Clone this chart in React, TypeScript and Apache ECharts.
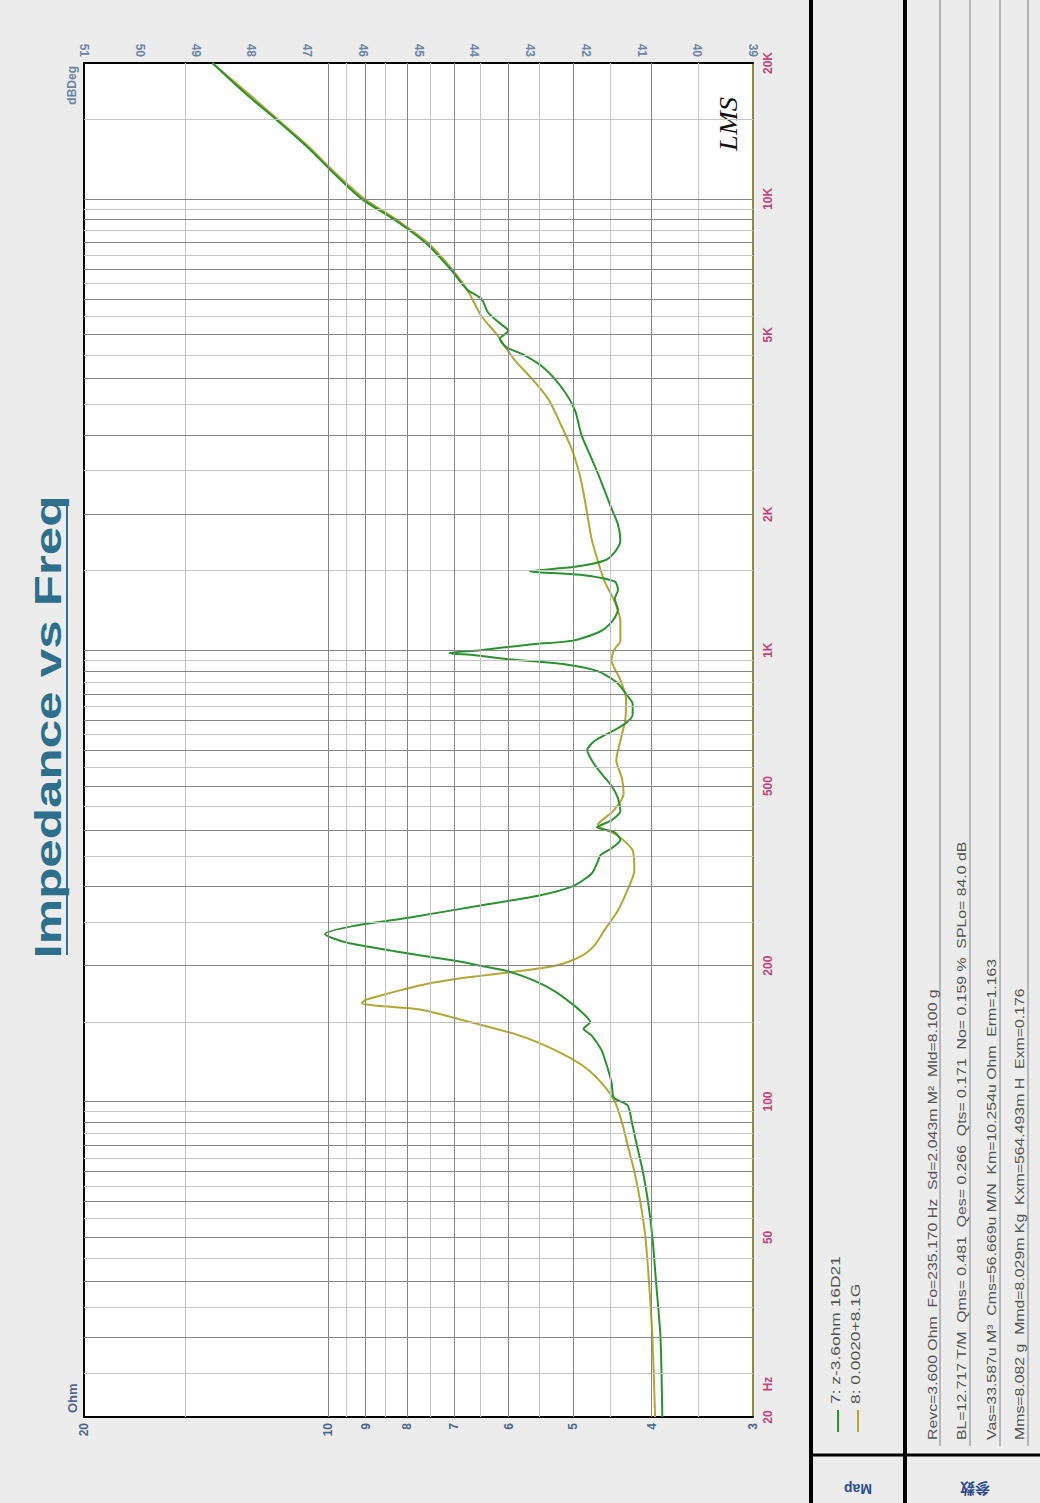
import React, { useEffect, useRef } from "react";
import * as echarts from "echarts";

const TITLE = "Impedance vs Freq";

const freqTicks = [20, 50, 100, 200, 500, 1000, 2000, 5000, 10000, 20000];
const freqTickLabels = ["20", "50", "100", "200", "500", "1K", "2K", "5K", "10K", "20K"];
const ohmTicks = [3, 4, 5, 6, 7, 8, 9, 10, 20];

const freqGridDark = [30, 40, 50, 60, 70, 80, 90, 100, 200, 300, 400, 500, 600, 700, 800, 900, 1000, 2000, 3000, 4000, 5000, 6000, 7000, 8000, 9000, 10000];
const freqGridLight = [25, 35, 45, 55, 65, 75, 85, 95, 150, 250, 350, 450, 550, 650, 750, 850, 950, 1500, 2500, 3500, 4500, 5500, 6500, 7500, 8500, 9500, 15000];
const ohmGridDark = [4, 5, 6, 7, 8, 9, 10];
const ohmGridLight = [3.5, 4.5, 5.5, 6.5, 7.5, 8.5, 9.5, 15];

// Curve 7 (green)
const freq7 = [20, 30, 40, 50, 60, 70, 80, 90, 98, 102, 110, 120, 130, 140, 145, 150, 158, 165, 175, 185, 195, 200, 205, 215, 225, 235, 245, 256, 272, 286, 300, 320, 340, 352, 365, 380, 395, 405, 420, 440, 470, 500, 530, 560, 600, 630, 660, 690, 720, 760, 800, 850, 900, 930, 955, 975, 985, 1000, 1030, 1050, 1100, 1160, 1230, 1300, 1360, 1420, 1470, 1495, 1530, 1580, 1650, 1750, 1900, 2100, 2400, 2700, 3000, 3400, 3800, 4200, 4500, 4700, 4900, 5100, 5300, 5600, 6000, 6300, 7000, 8000, 9000, 10000, 11500, 13000, 15000, 17000, 20000];
const ohm7 = [3.88, 3.90, 3.95, 3.99, 4.04, 4.10, 4.17, 4.23, 4.28, 4.45, 4.48, 4.54, 4.61, 4.74, 4.85, 4.76, 4.88, 5.02, 5.25, 5.57, 6.05, 6.5, 6.98, 8.25, 9.5, 10.1, 9.3, 7.9, 6.5, 5.5, 5.0, 4.74, 4.66, 4.62, 4.47, 4.37, 4.44, 4.67, 4.48, 4.37, 4.40, 4.48, 4.6, 4.71, 4.80, 4.70, 4.48, 4.30, 4.22, 4.22, 4.30, 4.42, 4.67, 5.1, 6.0, 6.6, 7.1, 6.5, 5.65, 5.0, 4.63, 4.47, 4.40, 4.44, 4.40, 4.44, 4.9, 5.65, 4.97, 4.57, 4.44, 4.37, 4.40, 4.5, 4.63, 4.76, 4.88, 4.97, 5.15, 5.41, 5.73, 6.05, 6.15, 6.0, 6.15, 6.36, 6.48, 6.75, 7.08, 7.6, 8.3, 9.1, 9.9, 10.6, 11.6, 12.6, 13.9];

// Curve 8 (olive)
const freq8 = [20, 30, 40, 50, 60, 70, 80, 90, 100, 110, 120, 130, 140, 150, 160, 163, 165, 168, 172, 177, 182, 188, 194, 200, 210, 222, 240, 265, 295, 325, 360, 390, 410, 440, 480, 520, 570, 630, 700, 780, 860, 950, 1000, 1050, 1160, 1280, 1420, 1580, 1760, 2000, 2270, 2500, 2800, 3200, 3600, 4000, 4400, 5000, 5500, 6300, 7000, 8000, 9000, 10000, 11500, 13000, 15000, 17000, 20000];
const ohm8 = [3.96, 3.99, 4.03, 4.07, 4.13, 4.20, 4.28, 4.35, 4.44, 4.61, 4.86, 5.26, 5.81, 6.69, 7.71, 8.7, 9.1, 9.0, 8.6, 8.1, 7.6, 6.8, 5.9, 5.26, 4.88, 4.70, 4.57, 4.40, 4.28, 4.20, 4.22, 4.42, 4.66, 4.46, 4.33, 4.35, 4.42, 4.37, 4.31, 4.30, 4.37, 4.48, 4.45, 4.37, 4.37, 4.44, 4.57, 4.66, 4.74, 4.80, 4.86, 4.92, 5.02, 5.19, 5.36, 5.62, 5.9, 6.2, 6.48, 6.75, 7.05, 7.55, 8.25, 9.03, 9.85, 10.55, 11.55, 12.5, 13.9];

const legendLabels = ["7: z-3.6ohm 16D21", "8: 0.0020+8.1G"];
const seriesColors = ["#2a922e", "#b3a634"];
const paramLines = [
  "Revc=3.600 Ohm  Fo=235.170 Hz  Sd=2.043m M²  Mld=8.100 g",
  "BL=12.717 T/M  Qms= 0.481  Qes= 0.266  Qts= 0.171  No= 0.159 %  SPLo= 84.0 dB",
  "Vas=33.587u M³  Cms=56.669u M/N  Km=10.254u Ohm  Erm=1.163",
  "Mms=8.082 g  Mmd=8.029m Kg  Kxm=564.493m H  Exm=0.176",
];
const cellLabels = ["Map", "参数"];

const FONT = "'Liberation Sans', Arial, sans-serif";

function nudge(vals: number[]) {
  const n = vals.length;
  return vals.map((v, i) => (i === 0 ? v * 1.0001 : i === n - 1 ? v * 0.9999 : v));
}

export default function App() {
  const ref = useRef<HTMLDivElement>(null);
  useEffect(() => {
    if (!ref.current) return;
    const chart = echarts.init(ref.current, null, { renderer: "svg" });

    const gridLines: any[] = [];
    freqGridLight.forEach((v) => gridLines.push({ yAxis: v, lineStyle: { color: "#c4c4c4", width: 1, type: "solid" } }));
    ohmGridLight.forEach((v) => gridLines.push({ xAxis: v, lineStyle: { color: "#c4c4c4", width: 1, type: "solid" } }));
    freqGridDark.forEach((v) => gridLines.push({ yAxis: v, lineStyle: { color: "#868686", width: 1, type: "solid" } }));
    ohmGridDark.forEach((v) => gridLines.push({ xAxis: v, lineStyle: { color: "#868686", width: 1, type: "solid" } }));

    const graphics: any[] = [];
    // Title
    graphics.push({
      type: "text", x: 48, y: 727, rotation: Math.PI / 2, scaleX: 1.42,
      style: { text: TITLE, fontSize: 36, fontWeight: "bold", fontFamily: FONT, fill: "#2f6f8e", align: "center", verticalAlign: "middle" },
    });
    graphics.push({ type: "line", shape: { x1: 67, y1: 500, x2: 67, y2: 955 }, style: { stroke: "#2f6f8e", lineWidth: 2 } });
    // Axis names
    graphics.push({
      type: "text", x: 72, y: 66, rotation: Math.PI / 2,
      style: { text: "dBDeg", fontSize: 12, fontWeight: "bold", fontFamily: FONT, fill: "#6b85aa", align: "right", verticalAlign: "middle" },
    });
    graphics.push({
      type: "text", x: 72, y: 1413, rotation: Math.PI / 2,
      style: { text: "Ohm", fontSize: 13, fontWeight: "bold", fontFamily: FONT, fill: "#4d6690", align: "left", verticalAlign: "middle" },
    });
    graphics.push({
      type: "text", x: 768, y: 1384, rotation: Math.PI / 2,
      style: { text: "Hz", fontSize: 12, fontWeight: "bold", fontFamily: FONT, fill: "#c8407c", align: "center", verticalAlign: "middle" },
    });
    // LMS logo
    graphics.push({
      type: "text", x: 728, y: 124, rotation: Math.PI / 2, scaleX: 1.1,
      style: { text: "LMS", fontSize: 26, fontStyle: "italic", fontFamily: "'Liberation Serif', serif", fill: "#111", align: "center", verticalAlign: "middle" },
    });
    // Right panel frame
    graphics.push({ type: "line", shape: { x1: 811, y1: 0, x2: 811, y2: 1503 }, style: { stroke: "#000", lineWidth: 4 } });
    graphics.push({ type: "line", shape: { x1: 905, y1: 0, x2: 905, y2: 1503 }, style: { stroke: "#000", lineWidth: 4 } });
    graphics.push({ type: "line", shape: { x1: 811, y1: 1455, x2: 1040, y2: 1455 }, style: { stroke: "#000", lineWidth: 3 } });
    [940, 970, 1000, 1028].forEach((x) => {
      graphics.push({ type: "line", shape: { x1: x, y1: 0, x2: x, y2: 1446 }, style: { stroke: "#a6a6a6", lineWidth: 1.5 } });
    });
    // Legend
    [838, 858].forEach((x, i) => {
      graphics.push({ type: "line", shape: { x1: x, y1: 1410, x2: x, y2: 1432 }, style: { stroke: seriesColors[i], lineWidth: 2 } });
      graphics.push({
        type: "text", x: x - 2, y: 1404, rotation: Math.PI / 2, scaleX: 1.45,
        style: { text: legendLabels[i], fontSize: 12, fontFamily: FONT, fill: "#555", align: "left", verticalAlign: "middle" },
      });
    });
    // Parameter lines
    [933, 962, 992, 1020].forEach((x, i) => {
      graphics.push({
        type: "text", x, y: 1440, rotation: Math.PI / 2, scaleX: 1.32,
        style: { text: paramLines[i], fontSize: 12, fontFamily: FONT, fill: "#555", align: "left", verticalAlign: "middle" },
      });
    });
    // Bottom cells (upside down)
    graphics.push({
      type: "text", x: 858, y: 1489, rotation: Math.PI,
      style: { text: cellLabels[0], fontSize: 14, fontWeight: "bold", fontFamily: FONT, fill: "#2c4f90", align: "center", verticalAlign: "middle" },
    });
    graphics.push({
      type: "text", x: 975, y: 1489, rotation: Math.PI,
      style: { text: cellLabels[1], fontSize: 15, fontWeight: "bold", fontFamily: "'Noto Sans CJK SC', sans-serif", fill: "#2c4f90", align: "center", verticalAlign: "middle" },
    });

    const labelBase = { fontSize: 12, fontWeight: "bold", fontFamily: FONT };

    chart.setOption({
      animation: false,
      backgroundColor: "#ececec",
      grid: { left: 84, top: 63, width: 669, height: 1354, show: true, backgroundColor: "#ffffff", borderColor: "#000", borderWidth: 2 },
      xAxis: [
        {
          type: "log", logBase: 10, min: 3, max: 20, inverse: true, position: "bottom",
          axisLine: { show: true, lineStyle: { color: "#000", width: 2 } },
          axisTick: { show: false }, splitLine: { show: false }, minorSplitLine: { show: false },
          axisLabel: {
            ...labelBase, customValues: nudge(ohmTicks), rotate: 90, margin: 6, color: "#4d6690",
            formatter: (v: number) => String(Math.round(v)),
          },
        },
        {
          type: "value", min: 39, max: 51, interval: 1, inverse: true, position: "top",
          axisLine: { show: true, lineStyle: { color: "#000", width: 2 } },
          axisTick: { show: false }, splitLine: { show: false },
          axisLabel: { ...labelBase, rotate: 90, margin: 6, color: "#6b85aa", showMinLabel: true, showMaxLabel: true },
        },
      ],
      yAxis: [
        {
          type: "log", logBase: 10, min: 20, max: 20000, position: "right",
          axisLine: { show: true, lineStyle: { color: "#8f8a3a", width: 2 } },
          axisTick: { show: false }, splitLine: { show: false },
          axisLabel: {
            ...labelBase, customValues: nudge(freqTicks), rotate: 90, margin: 9, color: "#c8407c",
            formatter: (v: number) => {
              const i = freqTicks.findIndex((t) => Math.abs(t - v) / t < 0.01);
              return i >= 0 ? freqTickLabels[i] : "";
            },
          },
        },
      ],
      graphic: graphics,
      series: [
        {
          type: "line", name: "grid", xAxisIndex: 0, yAxisIndex: 0, data: [], z: 1, silent: true, symbol: "none",
          markLine: { silent: true, symbol: ["none", "none"], label: { show: false }, emphasis: { disabled: true }, data: gridLines },
        },
        {
          type: "line", name: legendLabels[1], xAxisIndex: 0, yAxisIndex: 0, z: 3, symbol: "none", smooth: 0.25,
          lineStyle: { color: seriesColors[1], width: 2 },
          data: freq8.map((f, i) => [ohm8[i], f]),
        },
        {
          type: "line", name: legendLabels[0], xAxisIndex: 0, yAxisIndex: 0, z: 4, symbol: "none", smooth: 0.25,
          lineStyle: { color: seriesColors[0], width: 2 },
          data: freq7.map((f, i) => [ohm7[i], f]),
        },
      ],
    });
    return () => chart.dispose();
  }, []);
  return <div ref={ref} style={{ position: "absolute", left: 0, top: 0, width: 1040, height: 1503 }} />;
}
